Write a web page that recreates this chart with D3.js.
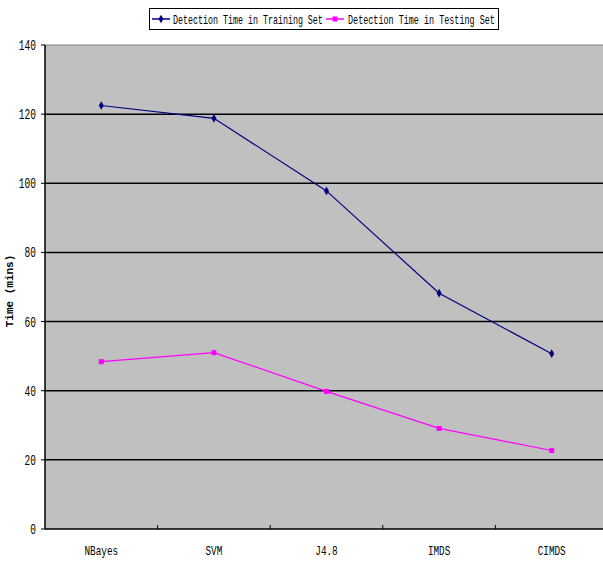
<!DOCTYPE html>
<html>
<head>
<meta charset="utf-8">
<script src="https://cdn.jsdelivr.net/npm/d3@7"></script>
<style>
  body { margin: 0; background: #fff; overflow: hidden; }
  svg { display: block; }
  text { font-family: "Liberation Mono", "DejaVu Sans Mono", monospace; }
</style>
</head>
<body>
<div id="chart"></div>
<script>
// Chart data
const categories = ["NBayes", "SVM", "J4.8", "IMDS", "CIMDS"];
const trainingTimes = [122.5, 118.8, 97.8, 68.2, 50.7];
const testingTimes = [48.4, 51.0, 39.8, 29.1, 22.7];
const yTicks = [0, 20, 40, 60, 80, 100, 120, 140];
const seriesNames = ["Detection Time in Training Set", "Detection Time in Testing Set"];

const width = 603, height = 561;
const margin = { top: 45, right: -5, bottom: 32, left: 45 };

const svg = d3.select("#chart").append("svg")
    .attr("width", width)
    .attr("height", height);

const x = d3.scaleBand()
    .domain(categories)
    .range([margin.left, width - margin.right]);

const y = d3.scaleLinear()
    .domain([0, 140])
    .range([height - margin.bottom, margin.top]);

// Plot background
svg.append("rect")
    .attr("x", margin.left)
    .attr("y", y(140))
    .attr("width", width - margin.right - margin.left)
    .attr("height", y(0) - y(140))
    .attr("fill", "#c0c0c0");

// Horizontal gridlines
svg.selectAll(".grid")
    .data(yTicks.filter(d => d > 0 && d < 140))
    .join("line")
    .attr("x1", margin.left)
    .attr("x2", width)
    .attr("y1", d => y(d))
    .attr("y2", d => y(d))
    .attr("stroke", "#000")
    .attr("stroke-width", 1.5);

// top border
svg.append("line")
    .attr("x1", margin.left).attr("x2", width)
    .attr("y1", y(140)).attr("y2", y(140))
    .attr("stroke", "#808080").attr("stroke-width", 1);

// Axes lines
svg.append("line")
    .attr("x1", margin.left).attr("x2", margin.left)
    .attr("y1", y(140)).attr("y2", y(0))
    .attr("stroke", "#000").attr("stroke-width", 1.5);
svg.append("line")
    .attr("x1", margin.left).attr("x2", width)
    .attr("y1", y(0)).attr("y2", y(0))
    .attr("stroke", "#000").attr("stroke-width", 1.5);

// x tick marks at category boundaries
svg.selectAll(".xtick")
    .data(categories.slice(1))
    .join("line")
    .attr("x1", d => x(d)).attr("x2", d => x(d))
    .attr("y1", y(0)).attr("y2", y(0) - 4)
    .attr("stroke", "#000");

// y tick marks
svg.selectAll(".ytick")
    .data(yTicks)
    .join("line")
    .attr("x1", margin.left - 4).attr("x2", margin.left)
    .attr("y1", d => y(d)).attr("y2", d => y(d))
    .attr("stroke", "#000");

// narrow text helper
function narrowText(g, tx, ty, str, size, anchor, sx) {
    return g.append("text")
        .attr("transform", `translate(${tx},${ty}) scale(${sx},1)`)
        .attr("text-anchor", anchor)
        .attr("font-size", size)
        .attr("fill", "#000")
        .text(str);
}

yTicks.forEach(t => {
    narrowText(svg, 36, y(t) + 5, t, 14, "end", 0.68);
});

categories.forEach(c => {
    narrowText(svg, x(c) + x.bandwidth() / 2, y(0) + 26, c, 13, "middle", 0.72);
});

// Y axis title
svg.append("text")
    .attr("transform", `translate(13,${(y(0) + y(140)) / 2 + 4}) rotate(-90)`)
    .attr("text-anchor", "middle")
    .attr("font-size", 11)
    .attr("font-weight", "bold")
    .text("Time (mins)");

// Series lines
const cx = d => x(d) + x.bandwidth() / 2;
const line = d3.line()
    .x((d, i) => cx(categories[i]))
    .y(d => y(d));

svg.append("path")
    .attr("d", line(trainingTimes))
    .attr("fill", "none")
    .attr("stroke", "#000080")
    .attr("stroke-width", 1.2);

svg.append("path")
    .attr("d", line(testingTimes))
    .attr("fill", "none")
    .attr("stroke", "#ff00ff")
    .attr("stroke-width", 1.2);

svg.selectAll(".m1")
    .data(trainingTimes)
    .join("path")
    .attr("d", d3.symbol(d3.symbolDiamond, 22))
    .attr("transform", (d, i) => `translate(${cx(categories[i])},${y(d)})`)
    .attr("fill", "#000080");

svg.selectAll(".m2")
    .data(testingTimes)
    .join("rect")
    .attr("x", (d, i) => cx(categories[i]) - 2.5)
    .attr("y", d => y(d) - 2.5)
    .attr("width", 5)
    .attr("height", 5)
    .attr("fill", "#ff00ff");

// Legend
const legend = svg.append("g");
legend.append("rect")
    .attr("x", 149.5).attr("y", 8.5)
    .attr("width", 349).attr("height", 21)
    .attr("fill", "#fff")
    .attr("stroke", "#000");

const legendItems = [
    { name: seriesNames[0], color: "#000080", x0: 152, tx: 173, w: 150, shape: "diamond" },
    { name: seriesNames[1], color: "#ff00ff", x0: 326, tx: 348, w: 147, shape: "square" }
];
legendItems.forEach(it => {
    legend.append("line")
        .attr("x1", it.x0).attr("x2", it.x0 + 18)
        .attr("y1", 19).attr("y2", 19)
        .attr("stroke", it.color).attr("stroke-width", 1.5);
    if (it.shape === "diamond") {
        legend.append("path")
            .attr("d", d3.symbol(d3.symbolDiamond, 22))
            .attr("transform", `translate(${it.x0 + 9},19)`)
            .attr("fill", it.color);
    } else {
        legend.append("rect")
            .attr("x", it.x0 + 6.5).attr("y", 16.5)
            .attr("width", 5).attr("height", 5)
            .attr("fill", it.color);
    }
    // Liberation Mono is 0.6em wide per char; squeeze to the target width
    const sx = it.w / (it.name.length * 0.6 * 13);
    narrowText(legend, it.tx, 24, it.name, 13, "start", sx);
});
</script>
</body>
</html>
